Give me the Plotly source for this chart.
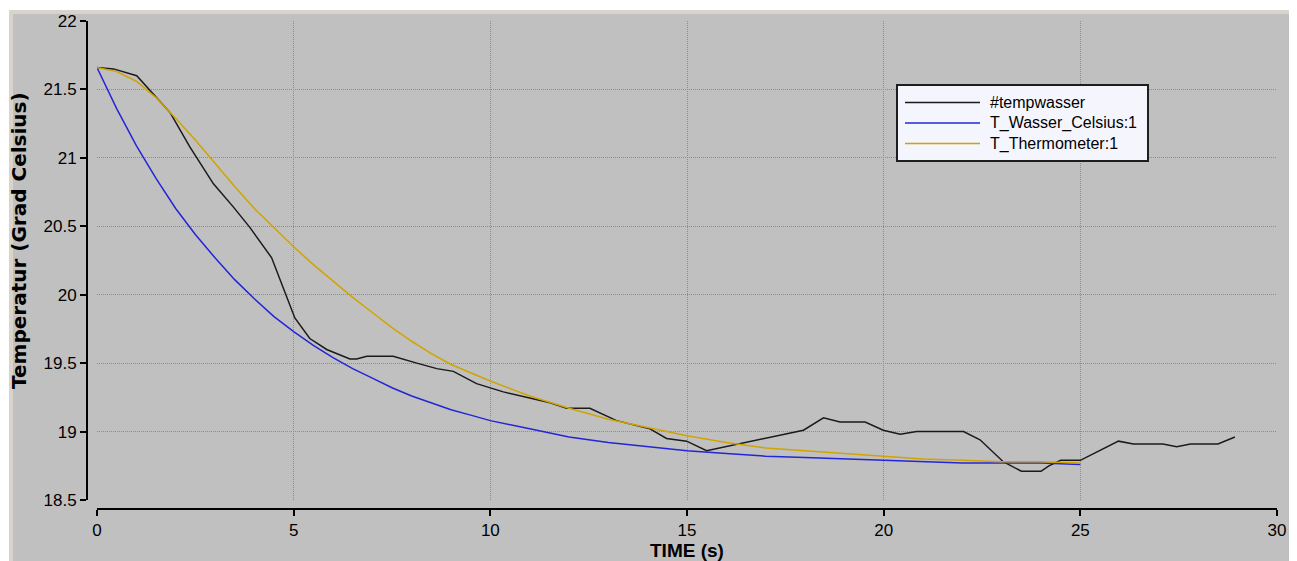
import plotly.graph_objects as go

# ---------------- data ----------------
t_temp = [0, 0.42, 1.01, 1.52, 1.86, 2.36, 2.96, 3.47, 3.89, 4.44, 4.74, 5.03, 5.41,
          5.84, 6.43, 6.6, 6.86, 7.53, 8.13, 8.64, 9.06, 9.65, 10.33, 10.92, 11.52,
          11.94, 12.53, 13.21, 13.8, 14.06, 14.48, 14.99, 15.5, 16.35, 17.45, 17.96,
          18.47, 18.89, 19.53, 19.99, 20.42, 20.84, 22.03, 22.45, 23.04, 23.3, 23.5,
          24.0, 24.2, 24.5, 25.0, 25.97, 26.35, 27.1, 27.45, 27.8, 28.5, 28.93]
v_temp = [21.66, 21.65, 21.60, 21.44, 21.33, 21.08, 20.81, 20.64, 20.49, 20.27, 20.05,
          19.83, 19.68, 19.60, 19.53, 19.53, 19.55, 19.55, 19.50, 19.46, 19.44, 19.35,
          19.29, 19.25, 19.21, 19.17, 19.17, 19.08, 19.04, 19.02, 18.95, 18.93, 18.86,
          18.91, 18.98, 19.01, 19.10, 19.07, 19.07, 19.01, 18.98, 19.00, 19.00, 18.94,
          18.78, 18.74, 18.71, 18.71, 18.75, 18.79, 18.79, 18.93, 18.91, 18.91, 18.89,
          18.91, 18.91, 18.96]

t_model = [0, 0.5, 1, 1.5, 2, 2.5, 3, 3.5, 4, 4.5, 5, 5.5, 6, 6.5, 7, 7.5, 8, 8.5, 9,
           9.5, 10, 11, 12, 13, 14, 15, 16, 17, 18, 19, 20, 21, 22, 23, 24, 25]
v_wasser = [21.66, 21.36, 21.09, 20.85, 20.63, 20.44, 20.27, 20.11, 19.97, 19.84, 19.73,
            19.63, 19.54, 19.46, 19.39, 19.32, 19.26, 19.21, 19.16, 19.12, 19.08, 19.02,
            18.96, 18.92, 18.89, 18.86, 18.84, 18.82, 18.81, 18.80, 18.79, 18.78, 18.77,
            18.77, 18.77, 18.76]
v_thermo = [21.66, 21.63, 21.56, 21.44, 21.29, 21.13, 20.96, 20.79, 20.63, 20.49, 20.35,
            20.22, 20.10, 19.98, 19.87, 19.76, 19.66, 19.57, 19.49, 19.43, 19.37, 19.26,
            19.17, 19.09, 19.03, 18.97, 18.92, 18.88, 18.86, 18.84, 18.82, 18.80, 18.79,
            18.78, 18.78, 18.77]

names = ["#tempwasser", "T_Wasser_Celsius:1", "T_Thermometer:1"]
colors = ["#1a1a1a", "#2424d8", "#d0a400"]

x_ticks = [0, 5, 10, 15, 20, 25, 30]
y_ticks = [18.5, 19, 19.5, 20, 20.5, 21, 21.5, 22]

# ---------------- figure geometry ----------------
OFF = 8                      # page body margin
W, H = 1297 - OFF, 561 - OFF
L, R, T, B = 87 - OFF, 20, 21 - OFF, 561 - 509
PW, PH = W - L - R, H - T - B


def px(sx):
    """screen x -> paper x"""
    return (sx - OFF - L) / PW


def py(sy):
    """screen y -> paper y"""
    return (H - B - (sy - OFF)) / PH


fig = go.Figure()
for xs, ys, nm, col in [(t_temp, v_temp, names[0], colors[0]),
                        (t_model, v_wasser, names[1], colors[1]),
                        (t_model, v_thermo, names[2], colors[2])]:
    fig.add_trace(go.Scatter(x=xs, y=ys, mode="lines", name=nm,
                             line=dict(color=col, width=1.5), showlegend=False))

font_fam = "Liberation Sans, Arial, sans-serif"
axis_common = dict(
    showline=True, linecolor="black", linewidth=2,
    ticks="outside", ticklen=6, tickwidth=2, tickcolor="black",
    showgrid=True, gridcolor="#8c8c8c", gridwidth=1, griddash="1px,1px",
    zeroline=False, tickfont=dict(family=font_fam, size=17, color="black"),
    anchor="free", position=0, automargin=False,
)

shapes = [
    dict(type="rect", xref="paper", yref="paper", x0=px(9), x1=px(1293), y0=py(600), y1=py(10),
         fillcolor="#d8d4cc", line_width=0, layer="below"),
    dict(type="rect", xref="paper", yref="paper", x0=px(13), x1=px(1289), y0=py(600), y1=py(14),
         fillcolor="#c0c0c0", line_width=0, layer="below"),
    dict(type="rect", xref="paper", yref="paper", x0=px(1289), x1=px(1291), y0=py(600), y1=py(14),
         fillcolor="#8a8a8a", line_width=0, layer="below"),
    # legend box
    dict(type="rect", xref="paper", yref="paper", x0=px(897), x1=px(1148), y0=py(161), y1=py(85),
         fillcolor="#f5f5fe", line=dict(color="#1e1e1e", width=2), layer="above"),
]
annotations = [
    dict(text="<b>TIME (s)</b>", xref="paper", yref="paper", x=px(687), y=py(550),
         xanchor="center", yanchor="middle", showarrow=False,
         font=dict(family=font_fam, size=19, color="black")),
    dict(text="<b>Temperatur (Grad Celsius)</b>", xref="paper", yref="paper", x=px(19), y=py(241),
         xanchor="center", yanchor="middle", showarrow=False, textangle=-90,
         font=dict(family="DejaVu Sans, sans-serif", size=20, color="black")),
]
rows = [102.5, 123, 143.5]
for nm, col, ry in zip(names, colors, rows):
    shapes.append(dict(type="line", xref="paper", yref="paper", x0=px(905), x1=px(980),
                       y0=py(ry), y1=py(ry), line=dict(color=col, width=1.5), layer="above"))
    annotations.append(dict(text=nm, xref="paper", yref="paper", x=px(988), y=py(ry),
                            xanchor="left", yanchor="middle", showarrow=False,
                            font=dict(family=font_fam, size=16, color="black")))

fig.update_layout(
    template="none",
    width=W, height=H,
    margin=dict(l=L, r=R, t=T, b=B, pad=0, autoexpand=False),
    paper_bgcolor="white", plot_bgcolor="#c0c0c0",
    showlegend=False,
    xaxis=dict(range=[0, 30], tickvals=x_ticks, domain=[px(97), 1], **axis_common),
    yaxis=dict(range=[18.5, 22], tickvals=y_ticks, domain=[py(500), 1], **axis_common),
    shapes=shapes,
    annotations=annotations,
)

fig.write_html("out.html")
